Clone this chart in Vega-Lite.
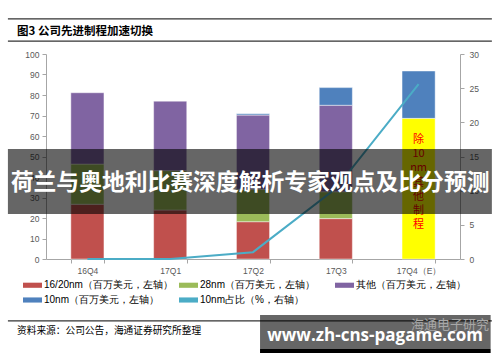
{
  "$schema": "https://vega.github.io/schema/vega-lite/v6.json",
  "width": 414,
  "height": 205,
  "autosize": {"type": "none"},
  "padding": {"left": 46, "top": 54, "right": 40, "bottom": 103},
  "background": "#ffffff",
  "config": {"view": {"stroke": null}, "font": "Liberation Sans"},
  "datasets": {
    "bars": [
      {"q": "16Q4", "s": "16/20nm", "v": 26.7},
      {"q": "16Q4", "s": "28nm", "v": 19.6},
      {"q": "16Q4", "s": "其他", "v": 34.8},
      {"q": "17Q1", "s": "16/20nm", "v": 23.9},
      {"q": "17Q1", "s": "28nm", "v": 19.2},
      {"q": "17Q1", "s": "其他", "v": 33.9},
      {"q": "17Q2", "s": "16/20nm", "v": 18.2},
      {"q": "17Q2", "s": "28nm", "v": 15.8},
      {"q": "17Q2", "s": "其他", "v": 36.2},
      {"q": "17Q2", "s": "10nm", "v": 0.6},
      {"q": "17Q3", "s": "16/20nm", "v": 19.7},
      {"q": "17Q3", "s": "28nm", "v": 13.1},
      {"q": "17Q3", "s": "其他", "v": 42.2},
      {"q": "17Q3", "s": "10nm", "v": 8.6},
      {"q": "17Q4（E）", "s": "除10nm其他制程", "v": 68.6},
      {"q": "17Q4（E）", "s": "10nm", "v": 23.1}
    ],
    "share": [
      {"q": "16Q4", "p": 0},
      {"q": "17Q1", "p": 0},
      {"q": "17Q2", "p": 1.0},
      {"q": "17Q3", "p": 10.3},
      {"q": "17Q4（E）", "p": 25.6}
    ]
  },
  "layer": [
    {
      "layer": [
        {
          "data": {"name": "bars"},
          "transform": [
            {"calculate": "indexof(['16/20nm','28nm','除10nm其他制程','其他','10nm'], datum.s)", "as": "rank"}
          ],
          "mark": {"type": "bar", "stroke": "#ffffff", "strokeWidth": 1, "strokeOpacity": 0.45},
          "encoding": {
            "x": {
              "field": "q", "type": "nominal", "sort": null,
              "scale": {"domain": ["16Q4", "17Q1", "17Q2", "17Q3", "17Q4（E）"], "paddingInner": 0.6, "paddingOuter": 0.3},
              "axis": {"title": null, "labelAngle": 0, "tickBand": "extent", "domainColor": "#a6a6a6", "tickColor": "#a6a6a6", "tickSize": 4, "labelColor": "#595959", "labelFontSize": 8.5, "labelPadding": 3}
            },
            "y": {
              "field": "v", "type": "quantitative", "stack": "zero",
              "scale": {"domain": [0, 100], "nice": false},
              "axis": {"title": null, "values": [0, 10, 20, 30, 40, 50, 60, 70, 80, 90, 100], "grid": false, "domainColor": "#a6a6a6", "tickColor": "#a6a6a6", "tickSize": 4, "labelColor": "#595959", "labelFontSize": 8.5, "labelPadding": 3}
            },
            "color": {
              "condition": {"test": "datum.s === '除10nm其他制程'", "value": "#ffff00"},
              "field": "s", "type": "nominal",
              "scale": {"domain": ["16/20nm", "28nm", "其他", "10nm", "10nm占比"], "range": ["#c0504d", "#9bbb59", "#8064a2", "#4f81bd", "#4bacc6"]},
              "legend": {
                "orient": "none", "legendX": -23, "legendY": 221.5, "direction": "horizontal",
                "columns": 3, "gridAlign": "all", "columnPadding": 6, "rowPadding": 0, "padding": 0,
                "symbolType": "M-1,-0.27H1V0.27H-1Z", "symbolSize": 361, "symbolStrokeWidth": 0,
                "labelFontSize": 10, "labelColor": "#000000", "labelOffset": 2, "title": null,
                "labelExpr": "datum.label == '10nm占比' ? datum.label + '（%，右轴）' : datum.label + '（百万美元，左轴）'"
              }
            },
            "order": {"field": "rank", "type": "quantitative"}
          }
        },
        {
          "data": {"values": [{"q": "17Q4（E）", "label": "除\n10\nnm\n其\n他\n制\n程"}]},
          "mark": {"type": "text", "lineBreak": "\n", "lineHeight": 14.2, "fontSize": 11, "color": "#ff0000", "font": "Noto Sans CJK SC", "baseline": "middle", "align": "center"},
          "encoding": {
            "x": {"field": "q", "type": "nominal", "sort": null, "scale": {"domain": ["16Q4", "17Q1", "17Q2", "17Q3", "17Q4（E）"], "paddingInner": 0.6, "paddingOuter": 0.3}},
            "y": {"datum": 58.0, "type": "quantitative", "scale": {"domain": [0, 100], "nice": false}, "axis": null},
            "text": {"field": "label"}
          }
        },
        {
          "data": {"name": "share"},
          "mark": {"type": "line", "strokeWidth": 2},
          "encoding": {
            "x": {"field": "q", "type": "nominal", "sort": null, "scale": {"domain": ["16Q4", "17Q1", "17Q2", "17Q3", "17Q4（E）"], "paddingInner": 0.6, "paddingOuter": 0.3}},
            "y": {
              "field": "p", "type": "quantitative",
              "scale": {"domain": [0, 30], "nice": false},
              "axis": {"orient": "right", "title": null, "values": [0, 5, 10, 15, 20, 25, 30], "grid": false, "domainColor": "#a6a6a6", "tickColor": "#a6a6a6", "tickSize": 4, "labelColor": "#595959", "labelFontSize": 8.5, "labelPadding": 5}
            },
            "color": {"datum": "10nm占比", "type": "nominal"}
          }
        }
      ],
      "resolve": {"scale": {"y": "independent"}}
    },
    {
      "data": {"values": [{}]},
      "layer": [
        {
          "mark": {"type": "rule", "color": "#333333", "strokeWidth": 1.3},
          "encoding": {
            "x": {"datum": -9.2, "type": "quantitative", "scale": {"domain": [0, 100], "nice": false}, "axis": null},
            "x2": {"datum": 107.7},
            "y": {"datum": 117.1, "type": "quantitative", "scale": {"domain": [0, 100], "nice": false}, "axis": null}
          }
        },
        {
          "mark": {"type": "rule", "color": "#333333", "strokeWidth": 1.3},
          "encoding": {
            "x": {"datum": -9.2, "type": "quantitative"},
            "x2": {"datum": 107.7},
            "y": {"datum": 106.3, "type": "quantitative"}
          }
        },
        {
          "mark": {"type": "text", "align": "left", "baseline": "middle", "fontSize": 11.5, "fontWeight": "bold", "font": "Noto Sans CJK SC", "color": "#000000"},
          "encoding": {
            "x": {"datum": -7.0, "type": "quantitative"},
            "y": {"datum": 110.9, "type": "quantitative"},
            "text": {"value": "图3 公司先进制程加速切换"}
          }
        },
        {
          "mark": {"type": "rule", "color": "#333333", "strokeWidth": 1.3},
          "encoding": {
            "x": {"datum": -9.2, "type": "quantitative"},
            "x2": {"datum": 107.7},
            "y": {"datum": -30.2, "type": "quantitative"}
          }
        },
        {
          "mark": {"type": "text", "align": "left", "baseline": "middle", "fontSize": 9.7, "font": "Noto Sans CJK SC", "color": "#000000"},
          "encoding": {
            "x": {"datum": -7.0, "type": "quantitative"},
            "y": {"datum": -35.1, "type": "quantitative"},
            "text": {"value": "资料来源：公司公告，海通证券研究所整理"}
          }
        },
        {
          "mark": {"type": "rect", "color": "#000000", "opacity": 0.6},
          "encoding": {
            "x": {"datum": -9.2, "type": "quantitative"},
            "x2": {"datum": 107.7},
            "y": {"datum": 53.7, "type": "quantitative"},
            "y2": {"datum": 22.0}
          }
        },
        {
          "mark": {"type": "text", "align": "center", "baseline": "middle", "fontSize": 22.8, "fontWeight": "bold", "font": "Noto Sans CJK SC", "color": "#ffffff"},
          "encoding": {
            "x": {"datum": 49.3, "type": "quantitative"},
            "y": {"datum": 36.9, "type": "quantitative"},
            "text": {"value": "荷兰与奥地利比赛深度解析专家观点及比分预测"}
          }
        },
        {
          "mark": {"type": "rect", "color": "#000000", "opacity": 0.6},
          "encoding": {
            "x": {"datum": 51.7, "type": "quantitative"},
            "x2": {"datum": 107.4},
            "y": {"datum": -27.3, "type": "quantitative"},
            "y2": {"datum": -43.9}
          }
        },
        {
          "mark": {"type": "rect", "color": "#000000"},
          "encoding": {
            "x": {"datum": 51.7, "type": "quantitative"},
            "x2": {"datum": 107.4},
            "y": {"datum": -43.9, "type": "quantitative"},
            "y2": {"datum": -45.9}
          }
        },
        {
          "mark": {"type": "text", "align": "center", "baseline": "middle", "fontSize": 13, "font": "Noto Sans CJK SC", "color": "#a8a8a8"},
          "encoding": {
            "x": {"datum": 97.6, "type": "quantitative"},
            "y": {"datum": -32.2, "type": "quantitative"},
            "text": {"value": "海通电子研究"}
          }
        },
        {
          "mark": {"type": "text", "align": "center", "baseline": "middle", "fontSize": 17, "fontWeight": "bold", "font": "Open Sans", "color": "#ffffff"},
          "encoding": {
            "x": {"datum": 79.5, "type": "quantitative"},
            "y": {"datum": -37.6, "type": "quantitative"},
            "text": {"value": "www.zh-cns-pagame.com"}
          }
        }
      ]
    }
  ],
  "resolve": {"scale": {"x": "independent", "y": "independent"}}
}
